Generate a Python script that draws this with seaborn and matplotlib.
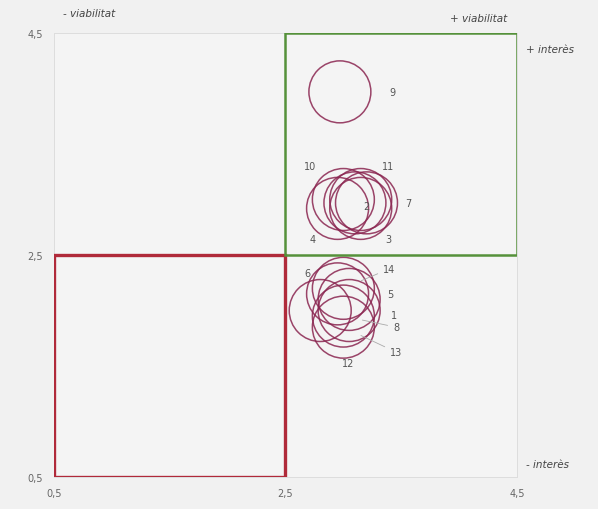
import pandas as pd
import seaborn as sns
import matplotlib.pyplot as plt
from matplotlib.patches import Rectangle

# Valors llegits del gràfic (viabilitat, interès)
ids = ['1', '2', '3', '4', '5', '6', '7', '8', '9', '10', '11', '12', '13', '14']
viabilitat = [3.05, 3.1, 3.15, 2.95, 3.05, 2.95, 3.2, 3.0, 2.97, 3.0, 3.15, 2.8, 3.0, 3.0]
interes = [2.0, 2.97, 2.92, 2.92, 2.1, 2.15, 2.97, 1.95, 3.97, 3.0, 3.0, 2.0, 1.85, 2.2]
ticks = [0.5, 2.5, 4.5]
tick_labels = ['0,5', '2,5', '4,5']

df = pd.DataFrame({'id': ids, 'viabilitat': viabilitat, 'interes': interes})

fig = plt.figure(figsize=(5.98, 5.1), dpi=100, facecolor='#f1f1f1')
ax = fig.add_axes([0.0903, 0.0627, 0.7742, 0.8706])
ax.set_facecolor('#f4f4f4')

sns.scatterplot(data=df, x='viabilitat', y='interes', s=1990, facecolor='none',
                edgecolor='#8a2550', linewidth=1.1, alpha=0.85, ax=ax, zorder=3)

# quadrants
ax.add_patch(Rectangle((0.5, 0.5), 2, 2, fill=False, edgecolor='#b02a3a', lw=2.4, zorder=4))
ax.add_patch(Rectangle((2.5, 2.5), 2, 2, fill=False, edgecolor='#55913a', lw=1.8, zorder=4))

# etiquetes dels punts (desplaçament en punts)
offsets = {'1': (32, -3), '2': (8, -2), '3': (20, -22), '4': (-18, -22), '5': (30, 4),
           '6': (-22, 15), '7': (30, 0), '8': (38, -8), '9': (38, 0), '10': (-24, 24),
           '11': (20, 24), '12': (20, -38), '13': (38, -18), '14': (33, 14)}
leaders = {'8', '13', '14'}
for _, r in df.iterrows():
    dx, dy = offsets[r['id']]
    ap = dict(arrowstyle='-', color='#aaaaaa', lw=0.6, shrinkA=2, shrinkB=14) if r['id'] in leaders else None
    ax.annotate(r['id'], (r['viabilitat'], r['interes']), xytext=(dx, dy),
                textcoords='offset points', ha='center', va='center',
                fontsize=7, color='#555555', arrowprops=ap, zorder=5)

ax.set_xlim(0.5, 4.5)
ax.set_ylim(0.5, 4.5)
ax.set_xticks(ticks)
ax.set_xticklabels(tick_labels)
ax.set_yticks(ticks)
ax.set_yticklabels(tick_labels)
ax.tick_params(length=0, labelsize=7, labelcolor='#666666', pad=8)
ax.grid(True, color='#dddddd', lw=0.7)
ax.set_axisbelow(True)
for s in ax.spines.values():
    s.set_color('#dddddd')
    s.set_linewidth(0.7)
ax.set_xlabel('')
ax.set_ylabel('')

# textos dels eixos
kw = dict(fontsize=7.5, style='italic', color='#444444', transform=ax.transAxes)
ax.text(0.02, 1.045, '- viabilitat', ha='left', va='center', **kw)
ax.text(0.98, 1.033, '+ viabilitat', ha='right', va='center', **kw)
ax.text(1.02, 0.965, '+ interès', ha='left', va='center', **kw)
ax.text(1.02, 0.03, '- interès', ha='left', va='center', **kw)

plt.savefig('out.png', dpi=100, facecolor=fig.get_facecolor())
